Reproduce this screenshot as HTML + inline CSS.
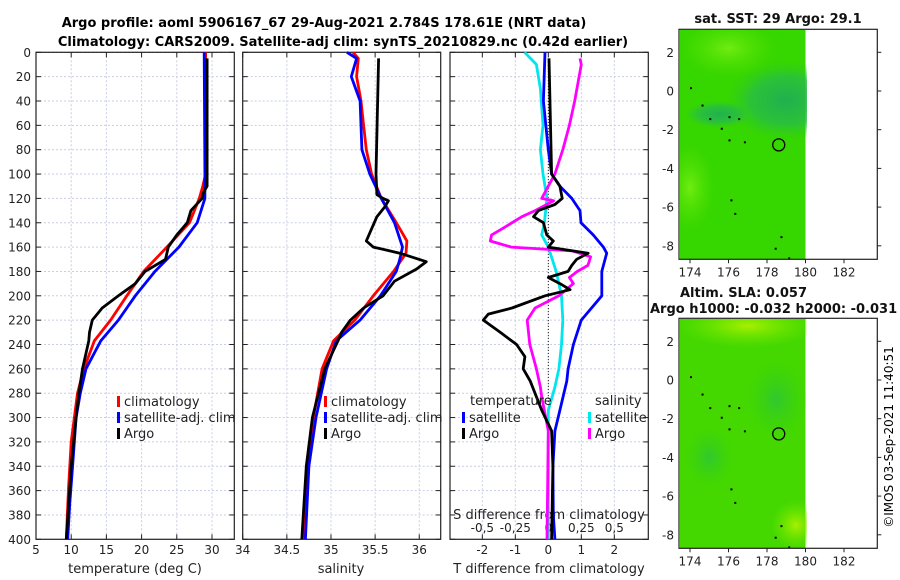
<!DOCTYPE html>
<html><head><meta charset="utf-8"><style>
body{margin:0;background:#fff}
svg{display:block;font-family:"DejaVu Sans","Liberation Sans",sans-serif}
</style></head><body>
<svg id="s" width="900" height="580" viewBox="0 0 900 580">
<defs>
<radialGradient id="teal" cx="0.5" cy="0.5" r="0.5"><stop offset="0" stop-color="#20b050"/><stop offset="0.6" stop-color="#28bd45" stop-opacity="0.8"/><stop offset="1" stop-color="#30cc20" stop-opacity="0"/></radialGradient>
<radialGradient id="light" cx="0.5" cy="0.5" r="0.5"><stop offset="0" stop-color="#70ec10"/><stop offset="1" stop-color="#50e000" stop-opacity="0"/></radialGradient>
<radialGradient id="yel" cx="0.5" cy="0.5" r="0.5"><stop offset="0" stop-color="#a8f000"/><stop offset="1" stop-color="#70e800" stop-opacity="0"/></radialGradient>
<radialGradient id="dk" cx="0.5" cy="0.5" r="0.5"><stop offset="0" stop-color="#30c830"/><stop offset="1" stop-color="#38d010" stop-opacity="0"/></radialGradient>
<clipPath id="m1c"><rect x="680" y="30" width="127" height="230"/></clipPath>
<clipPath id="m2c"><rect x="680" y="319" width="127" height="230"/></clipPath>
</defs>
<text x="324" y="27" text-anchor="middle" font-size="13" font-weight="bold">Argo profile: aoml 5906167_67 29-Aug-2021 2.784S 178.61E (NRT data)</text>
<text x="343" y="46" text-anchor="middle" font-size="13" font-weight="bold">Climatology: CARS2009. Satellite-adj clim: synTS_20210829.nc (0.42d earlier)</text>
<g id="g"></g>
<text x="893" y="437" font-size="12" text-anchor="middle" transform="rotate(-90 893 437)">©IMOS 03-Sep-2021 11:40:51</text>
</svg>
<script>
// ---- data ----
const depthTicks=[0,20,40,60,80,100,120,140,160,180,200,220,240,260,280,300,320,340,360,380,400];
const tempTicks=[5,10,15,20,25,30];
const salTicks=[34,34.5,35,35.5,36];
const salTickLabels=["34","34.5","35","35.5","36"];
const dTTicks=[-2,-1,0,1,2];
const dSTicks=[-0.5,-0.25,0,0.25,0.5];
const dSTickLabels=["-0,5","-0,25","0","0,25","0,5"];
const tempClimDepth=[0,100,110,120,140,160,180,200,220,237,260,280,320,360,400];
const tempClim=[29.1,29.1,28.7,28.2,26.8,23.6,20.3,17.9,15.6,13.3,11.8,10.9,10.0,9.6,9.3];
const tempSatDepth=[0,100,120,140,160,180,200,220,237,260,280,300,340,370,400];
const tempSat=[28.9,29.0,29.0,27.9,25.3,21.9,19.1,16.7,14.2,12.1,11.3,10.7,10.2,9.8,9.5];
const tempArgoDepth=[5,110,115,120,130,140,150,160,170,180,190,200,210,220,230,237,260,280,300,340,400];
const tempArgo=[29.3,29.3,28.8,28.6,27.0,26.5,25.0,23.8,23.4,20.5,19.1,16.7,14.4,13.0,12.6,12.5,11.6,11.1,10.7,10.0,9.3];
const salClimDepth=[0,5,20,40,60,80,100,120,140,155,165,180,200,220,237,260,300,340,400];
const salClim=[35.25,35.31,35.29,35.34,35.37,35.40,35.46,35.57,35.74,35.86,35.85,35.71,35.48,35.27,35.03,34.9,34.80,34.73,34.69];
const salSatDepth=[0,5,20,40,60,80,100,120,140,160,170,180,200,220,237,260,300,340,400];
const salSat=[35.18,35.29,35.23,35.33,35.34,35.35,35.44,35.57,35.72,35.81,35.78,35.74,35.56,35.33,35.06,34.95,34.83,34.75,34.71];
const salArgoDepth=[5,100,117,120,122,127,135,145,155,160,165,172,178,188,200,210,220,230,237,260,300,340,400];
const salArgo=[35.54,35.51,35.52,35.59,35.65,35.61,35.52,35.46,35.40,35.48,35.78,36.08,35.97,35.72,35.59,35.37,35.22,35.12,35.08,34.93,34.79,34.72,34.67];
const dTArgoDepth=[5,100,110,120,125,130,135,140,150,155,160,165,170,175,180,185,190,195,200,210,215,220,230,240,250,260,270,294,311,340,400];
const dTArgo=[0.02,0.1,0.35,0.42,0.2,-0.3,-0.45,-0.15,-0.05,0.15,0,1.21,0.86,0.71,0.6,0,0.35,0.66,-0.1,-1.1,-1.82,-1.97,-1.46,-0.96,-0.71,-0.76,-0.55,-0.2,0.1,0.14,0.1];
const dTSatDepth=[0,40,80,100,110,120,130,140,150,160,165,180,200,220,240,260,270,294,311,340,380,400];
const dTSat=[-0.1,-0.15,0,0.1,0.35,0.71,0.96,0.99,1.36,1.67,1.77,1.62,1.62,1.0,0.76,0.6,0.56,0.35,0.2,0.14,0.15,0.2];
const dSSatDepth=[0,10,30,60,80,100,120,140,150,160,180,200,220,240,260,275,294,400];
const dSSat=[-0.18,-0.09,-0.06,-0.04,-0.06,-0.04,-0.01,-0.03,-0.05,0,0.06,0.1,0.11,0.1,0.08,0.05,0,0];
const dSArgoDepth=[5,10,40,60,80,100,110,120,122,130,135,145,150,155,160,163,168,175,180,185,190,200,210,220,240,260,275,283,311,400];
const dSArgo=[0.24,0.25,0.2,0.16,0.11,0.05,0,-0.05,0.04,-0.1,-0.2,-0.35,-0.43,-0.44,-0.28,0.18,0.32,0.3,0.22,0.16,0.19,0.08,-0.1,-0.16,-0.14,-0.09,-0.06,-0.05,0,-0.01];
const latTicks=[2,0,-2,-4,-6,-8];
const lonTicks=[174,176,178,180,182];
const argoLon=[178.61], argoLat=[-2.784];

// ---- drawing ----
const NS="http://www.w3.org/2000/svg", G=document.getElementById('g');
function el(t,a,p){const e=document.createElementNS(NS,t);for(const k in a)e.setAttribute(k,a[k]);(p||G).appendChild(e);return e;}
const TOP=52.3,BOT=539.3;
const yD=d=>TOP+(d/400)*(BOT-TOP);
const panels=[{x0:36,x1:234.3,lo:5,hi:33.17},{x0:242.7,x1:440.7,lo:34,hi:36.243},{x0:450,x1:648.3,lo:-2.98,hi:3.03}];
const xf=p=>v=>p.x0+(v-p.lo)/(p.hi-p.lo)*(p.x1-p.x0);
const xT=xf(panels[0]),xS=xf(panels[1]),xDT=xf(panels[2]),xDS=v=>xDT(v*4);

function frame(p,ticks,fmt,name){
  const x=xf(p);
  ticks.forEach(v=>{const e=el('line',{x1:x(v),x2:x(v),y1:TOP,y2:BOT,stroke:'#c9cde6','stroke-width':1,'stroke-dasharray':'2,2'});
  
  });
  depthTicks.forEach(d=>{const e=el('line',{x1:p.x0,x2:p.x1,y1:yD(d),y2:yD(d),stroke:'#c9cde6','stroke-width':1,'stroke-dasharray':'2,2'});
  
  
  el('line',{x1:p.x0,x2:p.x0+5,y1:yD(d),y2:yD(d),stroke:'#222'});el('line',{x1:p.x1,x2:p.x1-5,y1:yD(d),y2:yD(d),stroke:'#222'});});
  ticks.forEach(v=>{el('line',{x1:x(v),x2:x(v),y1:BOT,y2:BOT-5,stroke:'#222'});el('line',{x1:x(v),x2:x(v),y1:TOP,y2:TOP+5,stroke:'#222'});
   if(fmt){const t=el('text',{x:x(v),y:554,'font-size':12,'text-anchor':'middle',fill:'#222'});t.textContent=fmt(v);
   
   }});
  const r=el('rect',{x:p.x0,y:TOP,width:p.x1-p.x0,height:BOT-TOP,fill:'none',stroke:'#222','stroke-width':1.2});
  
  
}
frame(panels[0],tempTicks,v=>String(v),'temperature-panel');
frame(panels[1],salTicks,v=>salTickLabels[salTicks.indexOf(v)],'salinity-panel');
frame(panels[2],dTTicks,v=>String(v),'difference-panel');
depthTicks.forEach(d=>{const t=el('text',{x:31,y:yD(d)+4.5,'font-size':12,'text-anchor':'end',fill:'#222'});t.textContent=d;
 
 });
dSTicks.forEach((v,i)=>{const t=el('text',{x:xDS(v),y:532,'font-size':12,'text-anchor':'middle',fill:'#222'});t.textContent=dSTickLabels[i];
 
 });
[['temperature (deg C)',135,573,'x-axis-title-temperature'],['salinity',341,573,'x-axis-title-salinity'],['T difference from climatology',549,573,'x-axis-title-t-diff'],['S difference from climatology',549,519,'s-diff-axis-title']].forEach(a=>{
 const t=el('text',{x:a[1],y:a[2],'font-size':13,'text-anchor':'middle',fill:'#222'});t.textContent=a[0];
 
 });
const z=el('line',{x1:xDT(0),x2:xDT(0),y1:yD(8),y2:BOT,stroke:'#222','stroke-width':1,'stroke-dasharray':'1,2'});



function series(depths,vals,xfn,color,name){
  const pts=depths.map((d,i)=>xfn(vals[i]).toFixed(1)+','+yD(d).toFixed(1)).join(' ');
  const e=el('polyline',{points:pts,fill:'none',stroke:color,'stroke-width':2.8,'stroke-linejoin':'round'});
  
  
}
series(tempClimDepth,tempClim,xT,'#f00','temp-climatology-line');
series(tempSatDepth,tempSat,xT,'#00f','temp-satellite-line');
series(tempArgoDepth,tempArgo,xT,'#000','temp-argo-line');
series(salClimDepth,salClim,xS,'#f00','sal-climatology-line');
series(salSatDepth,salSat,xS,'#00f','sal-satellite-line');
series(salArgoDepth,salArgo,xS,'#000','sal-argo-line');
series(dSSatDepth,dSSat,xDS,'#00e5ee','s-diff-satellite-line');
series(dTSatDepth,dTSat,xDT,'#00f','t-diff-satellite-line');
series(dSArgoDepth,dSArgo,xDS,'#f0f','s-diff-argo-line');
series(dTArgoDepth,dTArgo,xDT,'#000','t-diff-argo-line');

function legItem(x,y,color,label,name){
  const m=el('rect',{x:x,y:y-10,width:3,height:11,fill:color});
  
  
  const t=el('text',{x:x+7,y:y,'font-size':13,fill:'#222'});t.textContent=label;
  
  
}
[[117,'temp'],[324,'sal']].forEach(([x,n])=>{
  legItem(x,406,'#f00','climatology',n+'-legend-climatology');
  legItem(x,422,'#00f','satellite-adj. clim',n+'-legend-satellite');
  legItem(x,438,'#000','Argo',n+'-legend-argo');
});
{const t=el('text',{x:470,y:405,'font-size':13,fill:'#222'});t.textContent='temperature';
 
 
 const u=el('text',{x:595,y:405,'font-size':13,fill:'#222'});u.textContent='salinity';
 
 }
legItem(462,422,'#00f','satellite','diff-legend-t-satellite');
legItem(462,438,'#000','Argo','diff-legend-t-argo');
legItem(588,422,'#00e5ee','satellite','diff-legend-s-satellite');
legItem(588,438,'#f0f','Argo','diff-legend-s-argo');

// ---- maps ----
function map(off,name,top){
  const X0=679,X1=877.3,yTop=29.3+off,yBot=259.3+off;
  const lonX=l=>690+(l-174)*19.25, latY=a=>52.3+off+(2-a)*19.35;
  const g=el('g',{'clip-path':'url(#'+(off?'m2c':'m1c')+')'});
  
  
  el('rect',{x:X0,y:yTop,width:lonX(180)-X0,height:yBot-yTop,fill:top?'#36d600':'#44d800'},g);
  if(top){
    el('ellipse',{cx:lonX(176),cy:latY(2.2),rx:50,ry:30,fill:'url(#light)'},g);
    el('ellipse',{cx:lonX(179),cy:latY(-0.5),rx:60,ry:40,fill:'url(#teal)'},g);
    el('ellipse',{cx:lonX(175.5),cy:latY(-1.2),rx:35,ry:14,fill:'url(#teal)'},g);
    el('ellipse',{cx:lonX(174),cy:latY(-5),rx:25,ry:45,fill:'url(#light)'},g);
  } else {
    el('ellipse',{cx:lonX(177),cy:latY(2.8),rx:70,ry:22,fill:'url(#yel)'},g);
    el('ellipse',{cx:lonX(178.5),cy:latY(-1),rx:30,ry:40,fill:'url(#dk)'},g);
    el('ellipse',{cx:lonX(175),cy:latY(-4),rx:25,ry:30,fill:'url(#dk)'},g);
    el('ellipse',{cx:lonX(179.5),cy:latY(-7.5),rx:25,ry:25,fill:'url(#yel)'},g);
  }
  [[174,0.2],[174.6,-0.7],[175,-1.4],[176,-1.3],[176.5,-1.4],[175.6,-1.9],[176,-2.5],[176.8,-2.6],[176.1,-5.6],[176.3,-6.3],[178.7,-7.5],[178.4,-8.1],[179.1,-8.6]].forEach(p=>{
    el('rect',{x:lonX(p[0]),y:latY(p[1]),width:2,height:2,fill:'#000'},g);});
  const c=el('circle',{cx:lonX(argoLon[0]),cy:latY(argoLat[0]),r:6,fill:'none',stroke:'#000','stroke-width':1.3});
  
  
  const r=el('rect',{x:X0,y:yTop,width:X1-X0,height:yBot-yTop,fill:'none',stroke:'#222','stroke-width':1.2});
  
  
  latTicks.forEach(a=>{el('line',{x1:X1,x2:X1+4,y1:latY(a),y2:latY(a),stroke:'#222'});
    const t=el('text',{x:674,y:latY(a)+4.5,'font-size':12,'text-anchor':'end',fill:'#222'});t.textContent=a;
    
    });
  lonTicks.forEach(l=>{el('line',{x1:lonX(l),x2:lonX(l),y1:yBot,y2:yBot+4,stroke:'#222'});
    const t=el('text',{x:lonX(l),y:yBot+17,'font-size':12,'text-anchor':'middle',fill:'#222'});t.textContent=l;
    
    });
}
map(0,'sst-map',true);
map(289,'sla-map',false);
[['sat. SST: 29 Argo: 29.1',778,23,'middle','sst-map-title'],['Altim. SLA: 0.057',680,297,'start','sla-map-title'],['Argo h1000: -0.032 h2000: -0.031',650,313,'start','sla-map-subtitle']].forEach(a=>{
 const t=el('text',{x:a[1],y:a[2],'font-size':13,'font-weight':'bold','text-anchor':a[3],fill:'#111'});t.textContent=a[0];
 
 });
</script>
</body></html>
